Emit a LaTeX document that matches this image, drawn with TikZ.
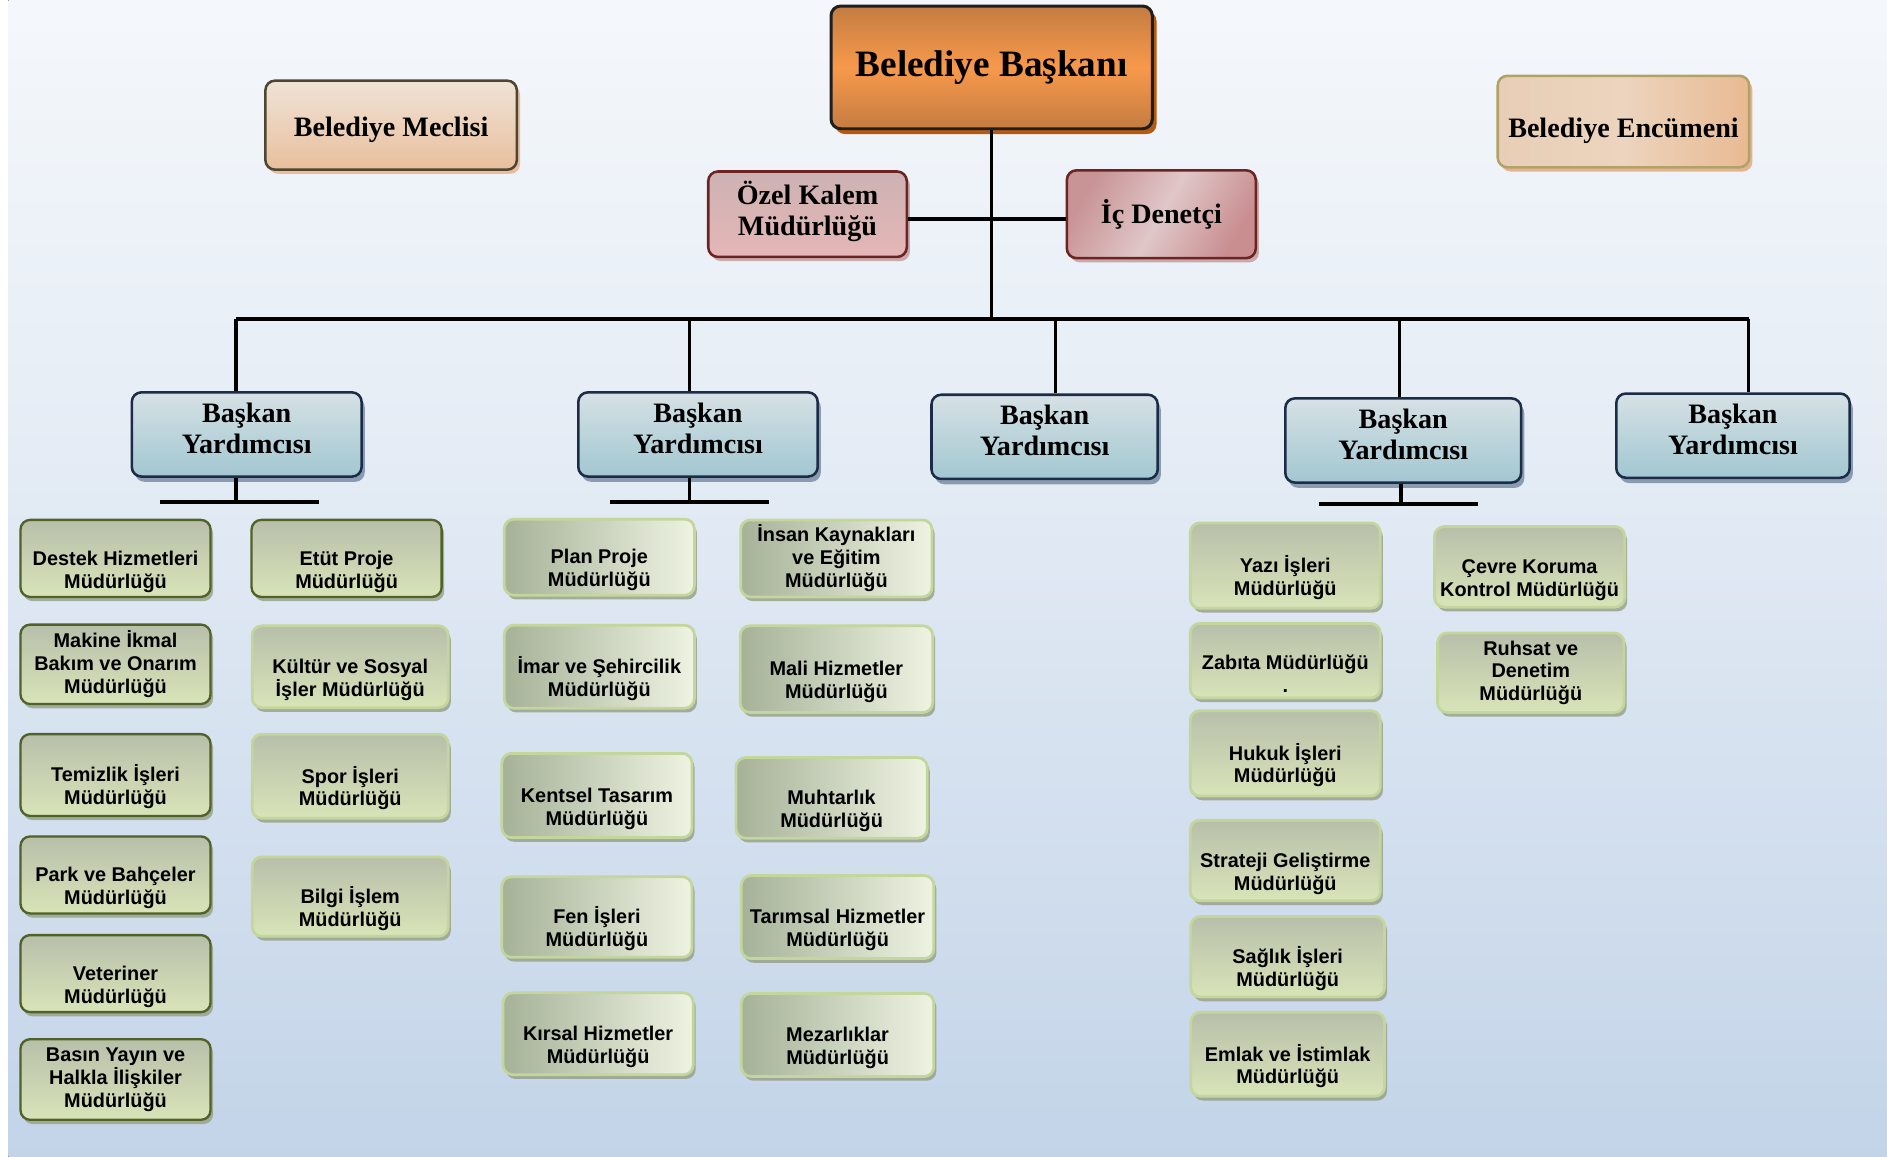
\documentclass[tikz,border=0pt]{standalone}
\usepackage{fontspec}
\setmainfont{Liberation Serif}
\newfontfamily\unitfont{Liberation Sans}
\usetikzlibrary{shadows}

\definecolor{bgblue}{HTML}{B8CCE4}
\definecolor{mayortop}{HTML}{C47C42}
\definecolor{mayormid}{HTML}{F7994B}
\definecolor{mayorline}{HTML}{1E1E1E}
\definecolor{mayorshadow}{HTML}{B55A12}
\definecolor{councilline}{HTML}{4D4632}
\definecolor{committeeline}{HTML}{B3A268}
\definecolor{staffline}{HTML}{6B2422}
\definecolor{deputyline}{HTML}{1C2B48}
\definecolor{unitdark}{HTML}{4F6228}
\definecolor{unitlight}{HTML}{C3D69B}

\pgfdeclareverticalshading{bgshade}{100bp}{color(0bp)=(bgblue); color(26bp)=(bgblue!83!white); color(57bp)=(bgblue!35!white); color(88bp)=(white); color(100bp)=(white)}

\tikzset{
	box/.style={draw, rounded corners=0.16cm, align=center, inner sep=2pt},
	upper/.style={box, font=\bfseries\fontsize{13.3}{14.6}\selectfont},
	lift/.style={execute at end node={\rule[-6pt]{0pt}{0pt}}},
	sink/.style={execute at begin node={\rule{0pt}{#1}}},
	unit/.style={box, line width=1.3pt, draw=unitlight,
		top color={rgb,255:red,184;green,191;blue,170}, bottom color={rgb,255:red,216;green,228;blue,184},
		minimum width=3.16cm, minimum height=1.32cm, text height=30pt,
		font=\unitfont\bfseries\fontsize{9.4}{10.8}\selectfont,
		drop shadow={shadow xshift=1.2pt, shadow yshift=-2pt, fill={rgb,255:red,150;green,158;blue,135}, opacity=0.8}},
	threeline/.style={text height={}},
	unitedge/.style={unit, draw=unitdark, line width=1.1pt},
	unitglow/.style={unit, left color={rgb,255:red,166;green,178;blue,152}, right color={rgb,255:red,238;green,243;blue,226}}
}

\begin{document}
\begin{tikzpicture}[x=0.02cm,y=-0.02cm]
	\useasboundingbox (0,0) rectangle (1568,961);
	\fill[shading=bgshade] (7,0) rectangle (1568,961);

	% top of the chart
	\node[upper, line width=1.4pt, draw=mayorline, top color=mayortop, bottom color=mayortop, middle color=mayormid,
		minimum width=5.34cm, minimum height=2.04cm, font=\bfseries\fontsize{17.6}{20}\selectfont,
		drop shadow={shadow xshift=2pt, shadow yshift=-2.5pt, fill=mayorshadow, opacity=1}]
		(mayor) at (824,56) {Belediye Başkanı};
	\node[upper, line width=1.2pt, draw=councilline, top color={rgb,255:red,240;green,227;blue,215}, bottom color={rgb,255:red,233;green,191;blue,157},
		minimum width=4.18cm, minimum height=1.48cm, sink=13.6pt,
		drop shadow={shadow xshift=1.5pt, shadow yshift=-2pt, fill={rgb,255:red,232;green,190;blue,160}, opacity=1}]
		(council) at (325,104) {Belediye Meclisi};
	\node[upper, line width=1.2pt, draw=committeeline, left color={rgb,255:red,232;green,206;blue,182}, right color={rgb,255:red,233;green,186;blue,146},
		middle color={rgb,255:red,236;green,212;blue,190}, minimum width=4.18cm, minimum height=1.52cm, sink=18pt,
		drop shadow={shadow xshift=1.5pt, shadow yshift=-2pt, fill={rgb,255:red,228;green,180;blue,145}, opacity=1}]
		(committee) at (1349,101) {Belediye Encümeni};
	\node[upper, lift, line width=1.2pt, draw=staffline, top color={rgb,255:red,205;green,178;blue,179}, bottom color={rgb,255:red,230;green,182;blue,182},
		minimum width=3.3cm, minimum height=1.42cm,
		drop shadow={shadow xshift=1.5pt, shadow yshift=-2pt, fill={rgb,255:red,200;green,170;blue,170}, opacity=1}]
		(ozel) at (671,178) {Özel Kalem\\Müdürlüğü};
	\node[upper, line width=1.2pt, draw=staffline, left color={rgb,255:red,201;green,148;blue,150}, right color={rgb,255:red,201;green,142;blue,144},
		middle color={rgb,255:red,224;green,199;blue,200}, shading angle=60, minimum width=3.14cm, minimum height=1.46cm,
		drop shadow={shadow xshift=1.5pt, shadow yshift=-2pt, fill={rgb,255:red,200;green,170;blue,170}, opacity=1}]
		(icd) at (965,178) {İç Denetçi};

	% deputies
	\begin{scope}[every node/.style={upper, lift, line width=1.2pt, draw=deputyline,
			top color={rgb,255:red,214;green,225;blue,229}, bottom color={rgb,255:red,162;green,199;blue,209},
			minimum height=1.4cm,
			drop shadow={shadow xshift=1.5pt, shadow yshift=-2.5pt, fill={rgb,255:red,128;green,148;blue,168}, opacity=0.9}}]
		\node[minimum width=3.82cm] (by1) at (205,361) {Başkan\\Yardımcısı};
		\node[minimum width=3.98cm] (by2) at (580,361) {Başkan\\Yardımcısı};
		\node[minimum width=3.76cm] (by3) at (868,363) {Başkan\\Yardımcısı};
		\node[minimum width=3.92cm] (by4) at (1166,366) {Başkan\\Yardımcısı};
		\node[minimum width=3.88cm] (by5) at (1440,362) {Başkan\\Yardımcısı};
	\end{scope}

	% connectors
	\begin{scope}[line width=1.7pt]
		\coordinate (bus1) at (196,265);
		\coordinate (bus2) at (573,265);
		\coordinate (bus3) at (877,265);
		\coordinate (bus4) at (1163,265);
		\coordinate (bus5) at (1453,265);
		\coordinate (staff) at (821,182);
		\draw (mayor.south) -- (mayor.south |- bus1);
		\draw (ozel.east |- staff) -- (icd.west |- staff);
		\draw[line width=2pt] (bus1) -- (bus5);
		\draw (bus1) -- (bus1 |- by1.north);
		\draw (bus2) -- (bus2 |- by2.north);
		\draw (bus3) -- (bus3 |- by3.north);
		\draw (bus4) -- (bus4 |- by4.north);
		\draw (bus5) -- (bus5 |- by5.north);
		\coordinate (sub1) at (196,417);
		\coordinate (sub1w) at (133,417);
		\coordinate (sub1e) at (265,417);
		\coordinate (sub2) at (573,417);
		\coordinate (sub2w) at (507,417);
		\coordinate (sub2e) at (639,417);
		\coordinate (sub4) at (1164,419);
		\coordinate (sub4w) at (1096,419);
		\coordinate (sub4e) at (1228,419);
		\draw (sub1 |- by1.south) -- (sub1);
		\draw (sub1w) -- (sub1e);
		\draw (sub2 |- by2.south) -- (sub2);
		\draw (sub2w) -- (sub2e);
		\draw (sub4 |- by4.south) -- (sub4);
		\draw (sub4w) -- (sub4e);
	\end{scope}

	% first deputy
	\node[unitedge, minimum height=1.28cm] (destek) at (96,464) {Destek Hizmetleri\\Müdürlüğü};
	\node[unitedge, threeline] (makine) at (96,552) {Makine İkmal\\Bakım ve Onarım\\Müdürlüğü};
	\node[unitedge, minimum height=1.36cm] (temizlik) at (96,644) {Temizlik İşleri\\Müdürlüğü};
	\node[unitedge, minimum height=1.28cm] (park) at (96,727) {Park ve Bahçeler\\Müdürlüğü};
	\node[unitedge, minimum height=1.28cm] (veteriner) at (96,809) {Veteriner\\Müdürlüğü};
	\node[unitedge, threeline, minimum height=1.34cm] (basin) at (96,897) {Basın Yayın ve\\Halkla İlişkiler\\Müdürlüğü};
	\node[unitedge, minimum height=1.28cm] (etut) at (288,464) {Etüt Proje\\Müdürlüğü};
	\node[unit, minimum width=3.26cm, minimum height=1.36cm] (kultur) at (291,554) {Kültür ve Sosyal\\İşler Müdürlüğü};
	\node[unit, minimum width=3.26cm, minimum height=1.4cm] (spor) at (291,645) {Spor İşleri\\Müdürlüğü};
	\node[unit, minimum width=3.26cm] (bilgi) at (291,745) {Bilgi İşlem\\Müdürlüğü};

	% second deputy
	\node[unitglow, minimum height=1.24cm] (plan) at (498,463) {Plan Proje\\Müdürlüğü};
	\node[unitglow, minimum height=1.38cm] (imar) at (498,554) {İmar ve Şehircilik\\Müdürlüğü};
	\node[unitglow, minimum height=1.4cm] (kentsel) at (496,661) {Kentsel Tasarım\\Müdürlüğü};
	\node[unitglow, minimum height=1.34cm] (fen) at (496,762) {Fen İşleri\\Müdürlüğü};
	\node[unitglow, minimum height=1.36cm] (kirsal) at (497,859) {Kırsal Hizmetler\\Müdürlüğü};
	\node[unitglow, threeline, minimum width=3.18cm, minimum height=1.28cm] (insan) at (695,464) {İnsan Kaynakları\\ve Eğitim\\Müdürlüğü};
	\node[unitglow, minimum width=3.2cm, minimum height=1.44cm] (mali) at (695,556) {Mali Hizmetler\\Müdürlüğü};
	\node[unitglow, minimum width=3.18cm, minimum height=1.34cm] (muhtar) at (691,663) {Muhtarlık\\Müdürlüğü};
	\node[unitglow, minimum width=3.2cm, minimum height=1.38cm] (tarim) at (696,762) {Tarımsal Hizmetler\\Müdürlüğü};
	\node[unitglow, minimum width=3.2cm, minimum height=1.38cm] (mezar) at (696,860) {Mezarlıklar\\Müdürlüğü};

	% fourth deputy
	\node[unit, minimum height=1.42cm] (yazi) at (1068,470) {Yazı İşleri\\Müdürlüğü};
	\node[unit, minimum height=1.24cm] (zabita) at (1068,549) {Zabıta Müdürlüğü\\.};
	\node[unit, minimum height=1.42cm] (hukuk) at (1068,626) {Hukuk İşleri\\Müdürlüğü};
	\node[unit, minimum height=1.34cm] (strateji) at (1068,715) {Strateji Geliştirme\\Müdürlüğü};
	\node[unit, minimum width=3.22cm, minimum height=1.34cm] (saglik) at (1070,795) {Sağlık İşleri\\Müdürlüğü};
	\node[unit, minimum width=3.22cm, minimum height=1.4cm] (emlak) at (1070,876) {Emlak ve İstimlak\\Müdürlüğü};
	\node[unit, minimum height=1.34cm] (cevre) at (1271,471) {Çevre Koruma\\Kontrol Müdürlüğü};
	\node[unit, threeline, minimum width=3.1cm] (ruhsat) at (1272,559) {Ruhsat ve\\Denetim\\Müdürlüğü};
\end{tikzpicture}
\end{document}
